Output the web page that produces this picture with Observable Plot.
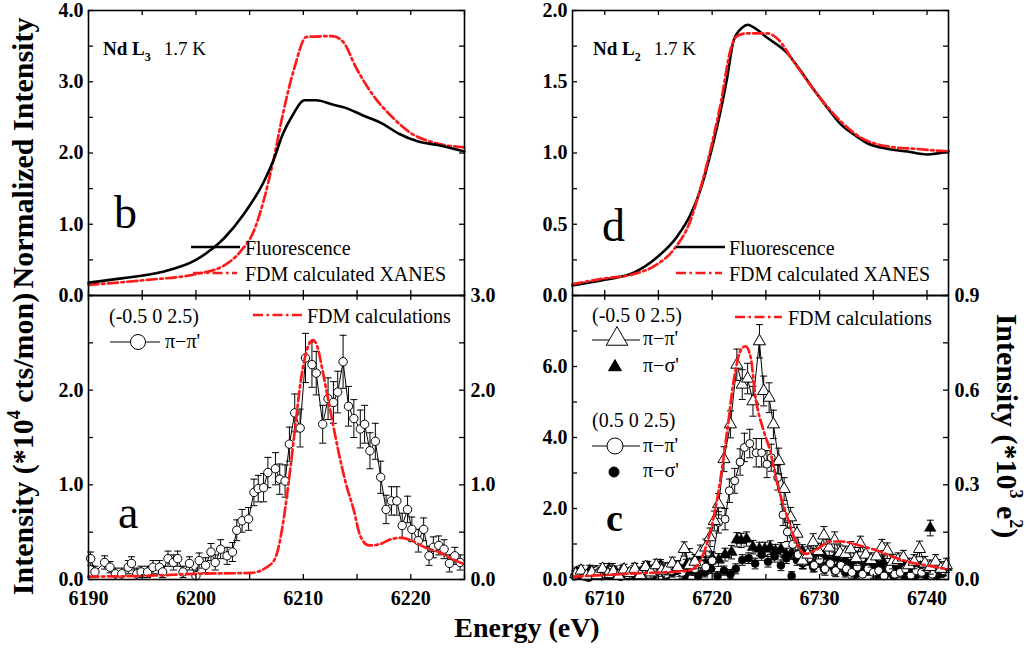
<!DOCTYPE html>
<html><head><meta charset="utf-8">
<script src="https://cdn.jsdelivr.net/npm/d3@7"></script>
<script src="https://cdn.jsdelivr.net/npm/@observablehq/plot@0.6"></script>
<style>
body{margin:0;background:#fff;}
#chart{position:relative;width:1029px;height:648px;overflow:hidden;background:#fff;}
#chart svg{position:absolute;overflow:visible;}
</style></head><body><div id="chart"></div>
<script>
const FONT = '"Liberation Serif","Times New Roman",serif';
const RED = "#ff1a1a";
const DASH = "10,3.5,2.5,3.5";

// ---------- Panel b (Nd L3 XANES) ----------
const bFluor = [[6190,0.18],[6193.1,0.24],[6196.8,0.33],[6200,0.50],[6202.6,0.80],[6204.5,1.15],[6206.3,1.59],[6207.2,1.89],[6208.1,2.27],[6209.0,2.53],[6210.1,2.74],[6211.2,2.74],[6212.7,2.68],[6214.0,2.63],[6215.5,2.53],[6217.4,2.41],[6218.9,2.27],[6220.7,2.16],[6222.6,2.11],[6225,2.02]];
const bFDM = [[6190,0.15],[6195.5,0.22],[6200,0.30],[6202.6,0.42],[6204.1,0.61],[6205.4,0.91],[6206.3,1.33],[6207.2,1.89],[6208.1,2.55],[6209.1,3.16],[6210.3,3.63],[6212.7,3.64],[6213.7,3.56],[6214.9,3.20],[6216.4,2.83],[6218.3,2.50],[6220.1,2.27],[6222.0,2.15],[6225,2.08]];

// ---------- Panel d (Nd L2 XANES) ----------
const dFluor = [[6707,0.07],[6710,0.11],[6712.7,0.16],[6714.9,0.27],[6716.8,0.42],[6718.0,0.57],[6718.9,0.74],[6719.9,1.01],[6720.8,1.30],[6721.4,1.53],[6722.0,1.79],[6722.8,1.88],[6723.3,1.90],[6723.9,1.88],[6725.1,1.81],[6727.0,1.70],[6728.2,1.58],[6729.5,1.44],[6730.7,1.32],[6732.0,1.20],[6733.2,1.13],[6734.4,1.07],[6736.3,1.03],[6738.2,1.01],[6740.0,0.99],[6742,1.01]];
const dFDM = [[6707,0.08],[6710,0.12],[6712.7,0.15],[6714.9,0.22],[6716.4,0.32],[6718.0,0.53],[6718.9,0.75],[6719.9,1.04],[6720.8,1.35],[6721.7,1.72],[6722.3,1.82],[6723.3,1.84],[6725.1,1.84],[6726.1,1.80],[6727.6,1.64],[6729.5,1.44],[6732.0,1.22],[6733.8,1.11],[6736.9,1.04],[6738.8,1.03],[6742,1.01]];

// ---------- Panel a : (-0.5 0 2.5) pi-pi' [energy, intensity, error] ----------
const aData = [[6190.2,0.22,0.07],[6190.6,0.08,0.06],[6191.5,0.18,0.07],[6192.0,0.13,0.06],[6192.5,0.06,0.06],[6193.1,0.06,0.06],[6193.7,0.13,0.07],[6194.0,0.17,0.07],[6194.5,0.06,0.06],[6194.9,0.08,0.06],[6195.5,0.08,0.06],[6196.0,0.13,0.07],[6196.6,0.13,0.07],[6196.9,0.08,0.06],[6197.4,0.22,0.08],[6197.9,0.18,0.08],[6198.3,0.22,0.08],[6198.8,0.08,0.06],[6199.4,0.17,0.07],[6200.0,0.04,0.06],[6200.3,0.20,0.08],[6200.9,0.15,0.08],[6201.4,0.29,0.09],[6201.8,0.18,0.08],[6202.3,0.32,0.10],[6202.9,0.25,0.09],[6203.4,0.29,0.10],[6203.8,0.52,0.11],[6204.3,0.62,0.12],[6204.9,0.64,0.12],[6205.4,0.92,0.14],[6205.8,0.96,0.14],[6206.3,0.97,0.15],[6206.7,1.13,0.16],[6207.4,1.17,0.17],[6207.8,1.06,0.16],[6208.3,1.04,0.17],[6208.7,1.43,0.18],[6209.2,1.76,0.20],[6209.7,1.60,0.20],[6210.2,2.34,0.26],[6210.8,2.27,0.24],[6211.2,2.18,0.23],[6211.8,1.64,0.20],[6212.3,1.91,0.22],[6212.8,1.87,0.22],[6213.2,1.98,0.22],[6213.7,2.30,0.28],[6214.2,1.83,0.21],[6214.7,1.70,0.20],[6215.3,1.59,0.20],[6215.7,1.64,0.20],[6216.2,1.36,0.19],[6216.7,1.46,0.19],[6217.2,1.08,0.17],[6217.7,0.74,0.15],[6218.2,0.83,0.15],[6218.7,0.83,0.15],[6219.2,0.57,0.13],[6219.7,0.74,0.14],[6220.1,0.53,0.13],[6220.7,0.41,0.12],[6221.2,0.53,0.12],[6221.7,0.25,0.10],[6222.1,0.34,0.11],[6222.6,0.36,0.10],[6223.1,0.32,0.10],[6223.6,0.17,0.09],[6224.1,0.25,0.09],[6224.6,0.18,0.08]];
const aFDM = [[6190,0.03],[6195.6,0.04],[6200,0.06],[6205.1,0.07],[6206.6,0.13],[6207.4,0.23],[6208.0,0.52],[6208.6,1.00],[6209.2,1.57],[6209.8,2.13],[6210.4,2.45],[6210.9,2.53],[6211.3,2.46],[6211.8,2.20],[6212.4,1.85],[6213.2,1.39],[6213.9,1.04],[6214.7,0.73],[6215.3,0.46],[6216.1,0.36],[6217.0,0.37],[6218.3,0.43],[6219.2,0.44],[6220.1,0.41],[6221.3,0.34],[6222.6,0.29],[6223.8,0.22],[6225,0.16]];

// ---------- Panel c ----------
const cTpp = [[6707.3,0.15,0.15],[6707.8,0.25,0.15],[6708.3,0.10,0.15],[6708.8,0.20,0.15],[6709.3,0.12,0.15],[6709.8,0.30,0.15],[6710.3,0.15,0.15],[6710.8,0.22,0.15],[6711.3,0.10,0.15],[6711.8,0.28,0.15],[6712.3,0.18,0.15],[6712.8,0.30,0.16],[6713.3,0.12,0.15],[6713.8,0.35,0.16],[6714.3,0.20,0.16],[6714.8,0.40,0.17],[6715.3,0.25,0.16],[6715.8,0.30,0.17],[6716.3,0.45,0.18],[6716.8,0.35,0.18],[6717.4,0.86,0.20],[6717.9,0.40,0.20],[6718.4,0.50,0.20],[6718.9,0.75,0.22],[6719.4,0.90,0.24],[6719.8,1.19,0.26],[6720.2,1.65,0.28],[6720.6,2.12,0.30],[6721.1,3.39,0.35],[6721.7,4.37,0.38],[6722.3,6.05,0.44],[6722.8,5.49,0.42],[6723.3,5.66,0.43],[6723.8,5.02,0.42],[6724.4,6.71,0.47],[6724.8,5.31,0.42],[6725.3,5.12,0.42],[6725.7,4.37,0.40],[6726.2,3.34,0.36],[6726.7,2.55,0.32],[6727.3,1.75,0.28],[6727.9,1.29,0.26],[6728.4,0.53,0.22],[6728.9,0.70,0.22],[6729.4,1.05,0.24],[6729.9,0.80,0.22],[6730.4,1.24,0.25],[6730.9,0.90,0.22],[6731.4,1.10,0.24],[6731.9,0.75,0.22],[6732.4,0.72,0.22],[6732.9,0.85,0.22],[6733.4,0.60,0.20],[6733.8,1.00,0.22],[6734.3,0.70,0.20],[6734.8,0.55,0.20],[6735.3,0.65,0.20],[6735.8,0.91,0.22],[6736.3,0.81,0.22],[6736.8,0.50,0.20],[6737.3,0.55,0.20],[6737.8,0.62,0.20],[6738.3,0.40,0.20],[6738.8,0.50,0.20],[6739.3,0.86,0.22],[6739.8,0.45,0.20],[6740.3,0.35,0.20],[6740.8,0.50,0.20],[6741.3,0.30,0.20],[6741.8,0.40,0.20]];
const cCpp = [[6707.2,0.10,0.14],[6707.7,0.20,0.14],[6708.2,0.08,0.14],[6708.7,0.15,0.14],[6709.2,0.25,0.14],[6709.7,0.10,0.14],[6710.2,0.18,0.14],[6710.7,0.30,0.15],[6711.2,0.12,0.14],[6711.7,0.20,0.14],[6712.2,0.10,0.14],[6712.7,0.25,0.15],[6713.2,0.15,0.14],[6713.7,0.30,0.15],[6714.2,0.12,0.14],[6714.7,0.20,0.15],[6715.2,0.35,0.15],[6715.7,0.15,0.15],[6716.2,0.25,0.15],[6716.7,0.30,0.16],[6717.2,0.20,0.16],[6717.9,0.67,0.20],[6718.4,0.30,0.18],[6718.9,0.45,0.20],[6719.4,0.35,0.20],[6720.0,0.53,0.22],[6720.6,1.61,0.30],[6721.2,1.70,0.30],[6721.6,2.50,0.33],[6722.1,2.78,0.35],[6722.6,3.31,0.37],[6723.0,3.72,0.40],[6723.5,3.83,0.40],[6724.1,3.57,0.40],[6724.6,3.57,0.40],[6725.1,3.25,0.38],[6725.5,3.43,0.38],[6726.1,2.87,0.35],[6726.6,1.82,0.30],[6727.0,1.34,0.27],[6727.5,0.99,0.25],[6728.0,0.70,0.22],[6728.5,0.50,0.20],[6729.0,0.60,0.20],[6729.5,0.40,0.18],[6730.0,0.55,0.20],[6730.5,0.30,0.18],[6731.0,0.45,0.18],[6731.5,0.25,0.17],[6732.0,0.40,0.18],[6732.5,0.30,0.17],[6733.0,0.20,0.16],[6733.5,0.35,0.17],[6734.0,0.15,0.16],[6734.5,0.30,0.17],[6735.0,0.20,0.16],[6735.5,0.25,0.16],[6736.0,0.10,0.15],[6736.5,0.30,0.16],[6737.0,0.15,0.15],[6737.5,0.20,0.15],[6738.0,0.30,0.16],[6738.5,0.12,0.15],[6739.0,0.25,0.15],[6739.5,0.20,0.15],[6740.0,0.30,0.16],[6740.5,0.15,0.15],[6741.0,0.40,0.16],[6741.5,0.25,0.15]];
const cTps = [[6707.4,0.20,0.15],[6708.0,0.10,0.15],[6708.6,0.25,0.15],[6709.2,0.15,0.15],[6709.8,0.20,0.15],[6710.4,0.30,0.15],[6711.0,0.10,0.15],[6711.6,0.25,0.15],[6712.2,0.15,0.15],[6712.8,0.30,0.15],[6713.4,0.20,0.15],[6714.0,0.35,0.16],[6714.6,0.25,0.16],[6715.2,0.40,0.16],[6715.8,0.30,0.16],[6716.4,0.35,0.16],[6717.0,0.25,0.16],[6717.6,0.40,0.17],[6718.2,0.35,0.17],[6718.8,0.50,0.17],[6719.4,0.45,0.17],[6720.0,0.60,0.18],[6720.6,0.55,0.18],[6721.2,0.70,0.18],[6721.8,0.77,0.19],[6722.3,1.12,0.20],[6722.7,1.10,0.20],[6723.2,1.14,0.20],[6723.8,0.91,0.19],[6724.4,0.86,0.19],[6724.9,0.86,0.19],[6725.4,0.90,0.19],[6725.9,0.80,0.19],[6726.4,0.85,0.19],[6726.9,0.70,0.18],[6727.4,0.75,0.18],[6727.9,0.65,0.18],[6728.4,0.80,0.18],[6728.9,0.60,0.18],[6729.4,0.70,0.18],[6729.9,0.55,0.17],[6730.4,0.65,0.17],[6730.9,0.50,0.17],[6731.4,0.60,0.17],[6731.9,0.45,0.17],[6732.4,0.55,0.17],[6732.9,0.40,0.16],[6733.4,0.50,0.16],[6733.9,0.35,0.16],[6734.4,0.45,0.16],[6734.9,0.30,0.16],[6735.4,0.40,0.16],[6735.9,0.50,0.16],[6736.4,0.30,0.16],[6736.9,0.35,0.16],[6737.4,0.25,0.15],[6737.9,0.45,0.16],[6738.4,0.30,0.15],[6738.9,0.20,0.15],[6739.4,0.35,0.15],[6739.9,0.25,0.15],[6740.3,1.45,0.22],[6740.8,0.30,0.15],[6741.3,0.20,0.15],[6741.8,0.35,0.15]];
const cCps = [[6707.3,0.10,0.12],[6707.9,0.15,0.12],[6708.5,0.05,0.12],[6709.1,0.20,0.12],[6709.7,0.10,0.12],[6710.3,0.12,0.12],[6710.9,0.25,0.13],[6711.5,0.08,0.12],[6712.1,0.18,0.12],[6712.7,0.10,0.12],[6713.3,0.20,0.13],[6713.9,0.35,0.13],[6714.5,0.15,0.12],[6715.1,0.30,0.13],[6715.7,0.10,0.12],[6716.3,0.20,0.13],[6716.9,0.30,0.13],[6717.5,0.15,0.12],[6718.1,0.25,0.13],[6718.7,0.10,0.12],[6719.3,0.20,0.13],[6719.9,0.30,0.13],[6720.5,0.10,0.12],[6721.1,0.25,0.13],[6721.7,0.15,0.13],[6722.2,0.30,0.14],[6722.8,0.55,0.15],[6723.4,0.60,0.15],[6724.0,0.45,0.15],[6724.6,0.70,0.16],[6725.2,0.50,0.15],[6725.8,0.65,0.16],[6726.4,0.40,0.15],[6726.9,0.60,0.15],[6727.4,0.10,0.12],[6727.9,0.55,0.15],[6728.4,0.45,0.15],[6728.9,0.60,0.15],[6729.4,0.35,0.14],[6729.9,0.50,0.15],[6730.4,0.30,0.14],[6730.9,0.45,0.14],[6731.4,0.25,0.13],[6731.9,0.40,0.14],[6732.4,0.20,0.13],[6732.9,0.35,0.14],[6733.4,0.15,0.13],[6733.9,0.30,0.13],[6734.4,0.25,0.13],[6734.9,0.35,0.13],[6735.4,0.15,0.13],[6735.9,0.30,0.13],[6736.4,0.20,0.13],[6736.9,0.10,0.12],[6737.4,0.25,0.13],[6737.9,0.15,0.12],[6738.4,0.30,0.13],[6738.9,0.10,0.12],[6739.4,0.20,0.12],[6739.9,0.15,0.12],[6740.4,0.25,0.13],[6740.9,0.10,0.12],[6741.4,0.20,0.12]];
const cFDM = [[6707,0.08],[6712.1,0.16],[6717.7,0.25],[6718.6,0.39],[6719.5,1.00],[6720.5,2.31],[6721.4,4.18],[6722.0,5.59],[6722.7,6.48],[6723.1,6.57],[6723.6,6.24],[6724.0,5.21],[6724.8,4.18],[6725.4,3.62],[6726.0,2.78],[6727.0,1.75],[6727.9,1.00],[6728.7,0.72],[6729.8,0.86],[6731.0,1.07],[6732.0,1.07],[6733.8,0.95],[6735.4,0.81],[6737.0,0.62],[6738.5,0.48],[6740.1,0.39],[6742,0.29]];

// ---------- tick values ----------
const xTicksL = [6190,6195,6200,6205,6210,6215,6220,6225];
const xLabelsL = [6190,6200,6210,6220];
const xTicksR = [6710,6715,6720,6725,6730,6735,6740];
const xLabelsR = [6710,6720,6730,6740];
const bYTicks = [0,0.5,1,1.5,2,2.5,3,3.5,4];
const bYLabels = [0,1,2,3,4];
const dYTicks = [0,0.25,0.5,0.75,1,1.25,1.5,1.75,2];
const dYLabels = [0,0.5,1,1.5,2];
const aYTicks = [0,0.5,1,1.5,2,2.5,3];
const aYLabels = [0,1,2];
const aYRLabels = [0,1,2,3];
const cYTicks = [0,1,2,3,4,5,6,7,8];
const cYLabels = [0,2,4,6];
const cYRTicks = [0,0.15,0.3,0.45,0.6,0.75,0.9];
const cYRLabels = [0,0.3,0.6,0.9];
const cRightMax = 0.9, cLeftMax = 8;

const TK = 5;
const chart = document.getElementById("chart");

function panel(cfg) {
  const fw = cfg.width - cfg.mL - cfg.mR, fh = cfg.height - cfg.mT - cfg.mB;
  const yR = cfg.yRMap || (d => d);
  const marks = [
    ...cfg.marks,
    Plot.tickX(cfg.xTicks, {x: d => d, insetBottom: fh - TK, stroke: "black", strokeWidth: 1.3}),
    Plot.tickX(cfg.xTicks, {x: d => d, insetTop: fh - TK, stroke: "black", strokeWidth: 1.3}),
    Plot.tickY(cfg.yTicks, {y: d => d, insetRight: fw - TK, stroke: "black", strokeWidth: 1.3}),
    Plot.tickY(cfg.yRTicks || cfg.yTicks, {y: yR, insetLeft: fw - TK, stroke: "black", strokeWidth: 1.3}),
    Plot.frame({stroke: "black", strokeWidth: 1.6}),
    Plot.axisY(cfg.yLabels, {anchor: "left", tickSize: 0, tickPadding: 5, tickFormat: d => d.toFixed(1), label: null})
  ];
  if (cfg.xLabels) marks.push(Plot.axisX(cfg.xLabels, {anchor: "bottom", tickSize: 0, tickPadding: 11, tickFormat: d => String(d), label: null}));
  if (cfg.yRLabels) marks.push(Plot.text(cfg.yRLabels, {y: yR, text: d => d.toFixed(1), frameAnchor: "right", textAnchor: "start", dx: 6}));
  const svg = Plot.plot({
    width: cfg.width, height: cfg.height,
    marginLeft: cfg.mL, marginRight: cfg.mR, marginTop: cfg.mT, marginBottom: cfg.mB,
    x: {domain: cfg.xDomain, axis: null},
    y: {domain: cfg.yDomain, axis: null},
    style: {fontFamily: FONT, fontSize: "20px", fontWeight: "bold", color: "black", background: "transparent", overflow: "visible"},
    marks
  });
  svg.style.position = "absolute";
  svg.style.left = cfg.left + "px";
  svg.style.top = cfg.top + "px";
  chart.appendChild(svg);
}

const capSym = {draw(ctx) { ctx.moveTo(-3.5, 0); ctx.lineTo(3.5, 0); }};
function errMarks(data) {
  return [
    Plot.ruleX(data, {x: d => d[0], y1: d => Math.max(0, d[1] - d[2]), y2: d => d[1] + d[2], stroke: "black", strokeWidth: 1}),
    Plot.dot(data, {x: d => d[0], y: d => d[1] + d[2], symbol: capSym, r: 3, stroke: "black", fill: "none", strokeWidth: 1}),
    Plot.dot(data.filter(d => d[1] - d[2] > 0), {x: d => d[0], y: d => d[1] - d[2], symbol: capSym, r: 3, stroke: "black", fill: "none", strokeWidth: 1})
  ];
}
const redLine = (data) => Plot.line(data, {x: d => d[0], y: d => d[1], stroke: RED, strokeWidth: 2.7, strokeDasharray: DASH, curve: "monotone-x"});
const blackLine = (data) => Plot.line(data, {x: d => d[0], y: d => d[1], stroke: "black", strokeWidth: 2.6, curve: "monotone-x"});

// b
panel({left: 0, top: 0, width: 480, height: 300, mL: 88, mR: 16, mT: 10, mB: 5,
  xDomain: [6190, 6225], yDomain: [0, 4], xTicks: xTicksL, yTicks: bYTicks, yLabels: bYLabels,
  marks: [redLine(bFDM), blackLine(bFluor)]});
// d
panel({left: 520, top: 0, width: 509, height: 300, mL: 52, mR: 81, mT: 10, mB: 5,
  xDomain: [6707, 6742], yDomain: [0, 2], xTicks: xTicksR, yTicks: dYTicks, yLabels: dYLabels,
  marks: [blackLine(dFluor), redLine(dFDM)]});
// a
panel({left: 0, top: 290, width: 520, height: 340, mL: 88, mR: 56, mT: 5, mB: 51,
  xDomain: [6190, 6225], yDomain: [0, 3], xTicks: xTicksL, yTicks: aYTicks, yLabels: aYLabels,
  xLabels: xLabelsL, yRLabels: aYRLabels,
  marks: [
    Plot.line(aData, {x: d => d[0], y: d => d[1], stroke: "black", strokeWidth: 1}),
    ...errMarks(aData),
    Plot.dot(aData, {x: d => d[0], y: d => d[1], r: 4.2, fill: "white", stroke: "black", strokeWidth: 1}),
    redLine(aFDM)
  ]});
// c
panel({left: 520, top: 290, width: 509, height: 340, mL: 52, mR: 81, mT: 5, mB: 51,
  xDomain: [6707, 6742], yDomain: [0, cLeftMax], xTicks: xTicksR, yTicks: cYTicks, yLabels: cYLabels,
  xLabels: xLabelsR, yRTicks: cYRTicks, yRLabels: cYRLabels, yRMap: d => d * cLeftMax / cRightMax,
  marks: [
    ...errMarks(cCps),
    Plot.dot(cCps, {x: d => d[0], y: d => d[1], r: 4, fill: "black", stroke: "black", strokeWidth: 0.5}),
    ...errMarks(cTps),
    Plot.dot(cTps, {x: d => d[0], y: d => d[1], r: 4.3, symbol: "triangle", fill: "black", stroke: "black", strokeWidth: 0.5}),
    Plot.line(cCpp, {x: d => d[0], y: d => d[1], stroke: "black", strokeWidth: 1}),
    ...errMarks(cCpp),
    Plot.dot(cCpp, {x: d => d[0], y: d => d[1], r: 4, fill: "white", stroke: "black", strokeWidth: 1}),
    Plot.line(cTpp, {x: d => d[0], y: d => d[1], stroke: "black", strokeWidth: 1}),
    ...errMarks(cTpp),
    Plot.dot(cTpp, {x: d => d[0], y: d => d[1], r: 4.5, symbol: "triangle", fill: "white", stroke: "black", strokeWidth: 1}),
    redLine(cFDM)
  ]});

// ---------- overlay: titles, legends, annotations ----------
const ov = d3.select(chart).append("svg").attr("width", 1029).attr("height", 648)
  .style("left", "0px").style("top", "0px").style("pointer-events", "none")
  .style("font-family", FONT).style("white-space", "pre");

function rich(parts, {x = 0, y = 0, anchor = "start", transform = null, size = 20, weight = "normal"} = {}) {
  const t = ov.append("text").attr("text-anchor", anchor).attr("font-size", size).attr("font-weight", weight).attr("fill", "black");
  if (transform) t.attr("transform", transform); else t.attr("x", x).attr("y", y);
  for (const p of parts) {
    const s = t.append("tspan").text(p.t);
    if (p.size) s.attr("font-size", p.size);
    if (p.weight) s.attr("font-weight", p.weight);
    if (p.dy) s.attr("dy", p.dy);
    if (p.dx) s.attr("dx", p.dx);
  }
}
function seg(x1, x2, y, red, w) {
  ov.append("line").attr("x1", x1).attr("x2", x2).attr("y1", y).attr("y2", y)
    .attr("stroke", red ? RED : "black").attr("stroke-width", w)
    .attr("stroke-dasharray", red ? DASH : null);
}
function sym(type, x, y, r, filled) {
  const size = Math.PI * r * r;
  ov.append("path").attr("d", d3.symbol(type === "tri" ? d3.symbolTriangle : d3.symbolCircle, size)())
    .attr("transform", `translate(${x},${y})`).attr("fill", filled ? "black" : "white").attr("stroke", "black").attr("stroke-width", 1);
}

// axis titles
rich([{t: "Normalized Intensity"}], {transform: "translate(33,153) rotate(-90)", anchor: "middle", size: 30, weight: "bold"});
rich([{t: "Intensity (*10"}, {t: "4", size: 18, dy: -13}, {t: " cts/mon)", size: 30, dy: 13}], {transform: "translate(33,444) rotate(-90)", anchor: "middle", size: 30, weight: "bold"});
rich([{t: "Intensity (*10"}, {t: "3", size: 18, dy: -13}, {t: " e", size: 30, dy: 13}, {t: "2", size: 18, dy: -13}, {t: ")", size: 30, dy: 13}], {transform: "translate(997,426) rotate(90)", anchor: "middle", size: 30, weight: "bold"});
rich([{t: "Energy (eV)"}], {x: 527, y: 637, anchor: "middle", size: 28, weight: "bold"});

// panel annotations
rich([{t: "Nd L", weight: "bold"}, {t: "3", size: 12, dy: 6, weight: "bold"}, {t: "1.7 K", dy: -6, dx: 13}], {x: 103, y: 55, size: 19});
rich([{t: "Nd L", weight: "bold"}, {t: "2", size: 12, dy: 6, weight: "bold"}, {t: "1.7 K", dy: -6, dx: 13}], {x: 593, y: 55, size: 19});
rich([{t: "b"}], {x: 114, y: 228, size: 46});
rich([{t: "d"}], {x: 602, y: 241, size: 46});
rich([{t: "a"}], {x: 118, y: 528, size: 46});
rich([{t: "c"}], {x: 606, y: 531, size: 38, weight: "bold"});

// legends b, d
seg(191, 240, 247, false, 2.6); rich([{t: "Fluorescence"}], {x: 245, y: 255});
seg(193, 237, 273, true, 2.7); rich([{t: "FDM calculated XANES"}], {x: 245, y: 281});
seg(676, 725, 247, false, 2.6); rich([{t: "Fluorescence"}], {x: 729, y: 255});
seg(676, 722, 273, true, 2.7); rich([{t: "FDM calculated XANES"}], {x: 729, y: 281});

// legend a
rich([{t: "(-0.5 0 2.5)"}], {x: 109, y: 323});
seg(110, 160, 342, false, 1); sym("circle", 138, 342, 7.5, false);
rich([{t: "π−π'"}], {x: 165, y: 348});
seg(253, 302, 315, true, 2.7); rich([{t: "FDM calculations"}], {x: 307, y: 323});

// legend c
rich([{t: "(-0.5 0 2.5)"}], {x: 592, y: 322});
seg(592, 640, 340, false, 1); sym("tri", 617, 339, 8, false);
rich([{t: "π−π'"}], {x: 643, y: 345});
sym("tri", 615, 367, 4.8, true);
rich([{t: "π−σ'"}], {x: 643, y: 372});
rich([{t: "(0.5 0 2.5)"}], {x: 592, y: 427});
seg(592, 640, 446, false, 1); sym("circle", 615, 446, 8, false);
rich([{t: "π−π'"}], {x: 643, y: 452});
sym("circle", 614, 472, 5, true);
rich([{t: "π−σ'"}], {x: 643, y: 477});
seg(735, 782, 317, true, 2.7); rich([{t: "FDM calculations"}], {x: 788, y: 325});
</script></body></html>
